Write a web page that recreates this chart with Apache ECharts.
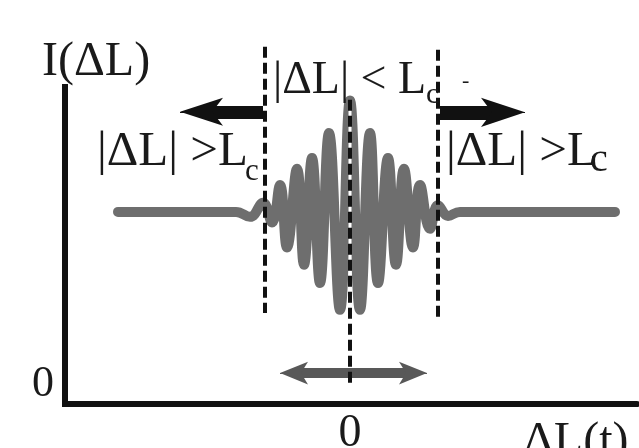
<!DOCTYPE html>
<html>
<head>
<meta charset="utf-8">
<script src="https://cdn.jsdelivr.net/npm/echarts@6/dist/echarts.min.js"></script>
<style>
  html, body { margin: 0; padding: 0; background: #fff; }
  #chart { width: 639px; height: 448px; }
</style>
</head>
<body>
<div id="chart"></div>
<script>
// Optical path difference ΔL (arbitrary units, 0 = zero delay)
const deltaL = [-23.2, -15.0, -11.4, -10.0, -8.7, -7.8, -7.0, -6.3, -5.3, -4.6, -3.8, -3.0, -2.1, -1.0, 0,
                 1.0, 2.0, 2.8, 3.8, 4.6, 5.4, 6.3, 7.0, 8.0, 8.8, 9.8, 11.0, 18.0, 26.5];
// Detected intensity I(ΔL), normalised to the incoherent background level
const intensity = [1.0, 1.0, 1.0, 0.974, 1.047, 0.945, 1.14, 0.815, 1.225, 0.725, 1.28, 0.63, 1.41, 0.49, 1.58,
                   0.49, 1.41, 0.63, 1.28, 0.725, 1.225, 0.815, 1.14, 0.912, 1.035, 0.979, 1.0, 1.0, 1.0];

// Axis extents and tick labels
const xRange = [-28.5, 28.7];
const yRange = [0, 1.65];
const xTickLabels = { 0: '0' };
const yTickLabels = { 0: '0' };

// Coherence-length boundaries ±Lc and the zero-delay marker: [x, yTop, yBottom]
const coherenceEdges = [[-8.5, 1.859, 0.474], [8.8, 1.844, 0.448]];
const zeroDelay = [0, 1.583, 0.109];

// Arrows: [tail, tip] in data units
const arrowOutLeft = [[-8.7, 1.521], [-17.0, 1.521]];
const arrowOutRight = [[9.0, 1.518], [17.5, 1.518]];
const arrowScan = [[-7.0, 0.161], [7.7, 0.161]];

const SERIF = "'Liberation Serif', 'DejaVu Serif', serif";
const INK = '#1a1a1a';

// place text by its baseline (Liberation Serif: baseline sits ~0.805em below the box top)
function serifText(str, left, baseline, size) {
  return {
    type: 'text', z: 100, silent: true,
    style: {
      text: str, x: left, y: baseline - 0.805 * size,
      font: size + 'px ' + SERIF, fill: INK, verticalAlign: 'top', align: 'left'
    }
  };
}

function vLine(x, yTop, yBottom, style) {
  return {
    type: 'line', data: [[x, yTop], [x, yBottom]], clip: false, silent: true,
    showSymbol: false, symbol: 'none', animation: false,
    lineStyle: style, emphasis: { disabled: true }, z: 5
  };
}

// An arrow as markLine pieces: a thick shaft stopping short of the tip,
// and a short hidden segment that carries the arrow head at the tip.
function arrowLines(tail, tip, opt, bothEnds) {
  const dir = Math.sign(tip[0] - tail[0]);
  const headBack = opt.shaftStop;          // shaft stops this far (data units) before each tip
  const shaftEnd = [tip[0] - dir * headBack, tip[1]];
  const shaftStart = bothEnds ? [tail[0] + dir * headBack, tail[1]] : tail;
  const solid = w => ({ color: opt.color, width: w, type: 'solid', opacity: 1 });
  const pieces = [
    [{ coord: shaftStart, symbol: 'none', lineStyle: solid(opt.width) }, { coord: shaftEnd, symbol: 'none' }],
    [{ coord: shaftEnd, symbol: 'none', lineStyle: solid(1) }, { coord: tip, symbol: 'arrow', symbolSize: opt.head }]
  ];
  if (bothEnds) {
    pieces.push([{ coord: shaftStart, symbol: 'none', lineStyle: solid(1) }, { coord: tail, symbol: 'arrow', symbolSize: opt.head }]);
  }
  return pieces;
}

const chart = echarts.init(document.getElementById('chart'), null, { renderer: 'canvas' });

const dashed = { color: '#111', width: 4, type: [11, 5] };

chart.setOption({
  animation: false,
  backgroundColor: '#fff',
  grid: { left: 65, right: 2, top: 87, bottom: 44, containLabel: false, outerBoundsMode: 'none' },
  xAxis: {
    type: 'value', min: xRange[0], max: xRange[1], interval: -xRange[0],
    axisLine: { onZero: false, lineStyle: { color: '#111', width: 6 } },
    axisTick: { show: false }, splitLine: { show: false },
    axisLabel: {
      formatter: v => xTickLabels[v] || '', margin: 7, verticalAlign: 'top',
      fontFamily: SERIF, fontSize: 46, color: INK, showMinLabel: true, showMaxLabel: true
    }
  },
  yAxis: {
    type: 'value', min: yRange[0], max: yRange[1], interval: yRange[1],
    axisLine: { show: true, onZero: false, lineStyle: { color: '#111', width: 6, cap: 'square' } },
    axisTick: { show: false }, splitLine: { show: false },
    axisLabel: {
      formatter: v => yTickLabels[v] || '', margin: 11, verticalAlign: 'bottom', lineHeight: 39,
      fontFamily: SERIF, fontSize: 44, color: INK
    }
  },
  series: [
    {
      type: 'line', name: 'I(ΔL)',
      data: deltaL.map((x, i) => [x, intensity[i]]),
      smooth: 0.45, showSymbol: false, symbol: 'none', silent: true,
      lineStyle: { color: '#6e6e6e', width: 10, cap: 'round', join: 'round' },
      emphasis: { disabled: true }, z: 2,
      markLine: {
        silent: true, animation: false, label: { show: false }, emphasis: { disabled: true },
        symbol: ['none', 'none'],
        data: [].concat(
          arrowLines(arrowOutLeft[0], arrowOutLeft[1], { color: '#111', width: 13, head: [21, 43], shaftStop: 2.4 }),
          arrowLines(arrowOutRight[0], arrowOutRight[1], { color: '#111', width: 14, head: [22, 44], shaftStop: 2.4 }),
          arrowLines(arrowScan[0], arrowScan[1], { color: '#585858', width: 10, head: [17, 28], shaftStop: 1.5 }, true)
        )
      }
    },
    // light core behind the zero-delay marker inside the fringe packet
    vLine(zeroDelay[0], 1.58, 0.46, { color: '#fff', width: 3, type: 'solid' }),
    vLine(zeroDelay[0], zeroDelay[1], zeroDelay[2], dashed),
    vLine(coherenceEdges[0][0], coherenceEdges[0][1], coherenceEdges[0][2], dashed),
    vLine(coherenceEdges[1][0], coherenceEdges[1][1], coherenceEdges[1][2], dashed)
  ],
  graphic: [
    serifText('I(ΔL)', 42, 77, 48),
    serifText('|ΔL| < L', 273, 95, 46),
    serifText('c', 426, 104, 30),
    serifText('-', 462, 88, 22),
    serifText('|ΔL| >L', 97, 167, 49),
    serifText('c', 245, 181, 31),
    serifText('|ΔL| >L', 446, 167, 49),
    serifText('c', 590, 173, 40),
    serifText('ΔL(t)', 523, 457, 48)
  ]
});
</script>
</body>
</html>
